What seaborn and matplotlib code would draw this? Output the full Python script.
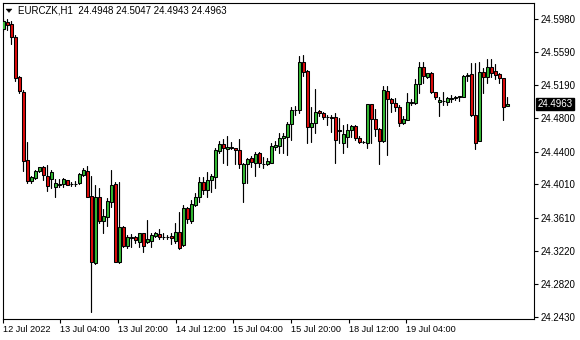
import matplotlib
matplotlib.use("Agg")
import matplotlib.pyplot as plt
import matplotlib.transforms as mtransforms
from matplotlib.patches import Polygon
import seaborn as sns
import numpy as np
import pandas as pd

symbol = "EURCZK,H1"

opens = [
    24.5861, 24.5944, 24.5920, 24.5765, 24.5289, 24.5110, 24.4300, 24.4050, 24.4086, 24.4169,
    24.4217, 24.4109, 24.4074, 24.3978, 24.4008, 24.4014, 24.4056, 24.4014, 24.4014, 24.4026,
    24.4121, 24.4169, 24.3871, 24.3073, 24.3859, 24.3577, 24.3624, 24.3803, 24.4010, 24.3088,
    24.3502, 24.3275, 24.3371, 24.3379, 24.3327, 24.3427, 24.3320, 24.3331, 24.3398, 24.3418,
    24.3379, 24.3386, 24.3395, 24.3339, 24.3439, 24.3287, 24.3725, 24.3577, 24.3764, 24.3856,
    24.4041, 24.3943, 24.4062, 24.4101, 24.4411, 24.4491, 24.4427, 24.4439, 24.4439, 24.4419,
    24.4022, 24.4249, 24.4320, 24.4261, 24.4387, 24.4252, 24.4249, 24.4268, 24.4458, 24.4470,
    24.4558, 24.4577, 24.4725, 24.4896, 24.4896, 24.5464, 24.5364, 24.4690, 24.4737, 24.4884,
    24.4856, 24.4809, 24.4809, 24.4809, 24.4654, 24.4506, 24.4577, 24.4657, 24.4705, 24.4558,
    24.4518, 24.4499, 24.4967, 24.4785, 24.4666, 24.4530, 24.5126, 24.5023, 24.4975, 24.4928,
    24.4744, 24.4780, 24.4975, 24.4975, 24.5205, 24.5404, 24.5292, 24.5333, 24.5106, 24.4987,
    24.5006, 24.4995, 24.5023, 24.5042, 24.5054, 24.5054, 24.5304, 24.5321, 24.4836, 24.4530,
    24.5345, 24.5292, 24.5404, 24.5357, 24.5321, 24.5273, 24.4948,
]
highs = [
    24.5980, 24.5980, 24.5956, 24.5789, 24.5301, 24.5134, 24.4514, 24.4109, 24.4181, 24.4217,
    24.4228, 24.4240, 24.4181, 24.4074, 24.4074, 24.4086, 24.4062, 24.4038, 24.4050, 24.4145,
    24.4205, 24.4228, 24.4109, 24.4002, 24.3966, 24.3716, 24.3847, 24.4181, 24.4041, 24.4041,
    24.3514, 24.3406, 24.3418, 24.3395, 24.3430, 24.3430, 24.3585, 24.3434, 24.3439, 24.3474,
    24.3434, 24.3406, 24.3427, 24.3546, 24.3677, 24.3764, 24.3744, 24.3823, 24.3903, 24.4094,
    24.4094, 24.4161, 24.4133, 24.4439, 24.4530, 24.4550, 24.4586, 24.4518, 24.4443, 24.4547,
    24.4264, 24.4320, 24.4348, 24.4399, 24.4399, 24.4339, 24.4320, 24.4506, 24.4530, 24.4625,
    24.4625, 24.4756, 24.4935, 24.4943, 24.5539, 24.5551, 24.5372, 24.4928, 24.5142, 24.4896,
    24.4875, 24.4836, 24.4836, 24.4863, 24.4797, 24.4717, 24.4729, 24.4717, 24.4717, 24.4586,
    24.4526, 24.4967, 24.4967, 24.4904, 24.4681, 24.5182, 24.5182, 24.5035, 24.5035, 24.4955,
    24.4824, 24.5102, 24.5023, 24.5261, 24.5471, 24.5471, 24.5340, 24.5352, 24.5114, 24.5054,
    24.5106, 24.5054, 24.5071, 24.5062, 24.5066, 24.5313, 24.5340, 24.5452, 24.5459, 24.5471,
    24.5392, 24.5500, 24.5500, 24.5444, 24.5333, 24.5277, 24.5047,
]
lows = [
    24.5837, 24.5849, 24.5682, 24.5241, 24.5098, 24.4169, 24.4026, 24.4026, 24.4074, 24.4157,
    24.4062, 24.3931, 24.3966, 24.3859, 24.3978, 24.3978, 24.4002, 24.3990, 24.3990, 24.4014,
    24.4109, 24.3859, 24.2489, 24.3061, 24.3549, 24.3434, 24.3514, 24.3744, 24.3085, 24.3076,
    24.3260, 24.3252, 24.3267, 24.3315, 24.3267, 24.3208, 24.3308, 24.3267, 24.3379, 24.3359,
    24.3359, 24.3355, 24.3296, 24.3308, 24.3240, 24.3279, 24.3546, 24.3553, 24.3752, 24.3803,
    24.3895, 24.3856, 24.3922, 24.3963, 24.4380, 24.4268, 24.4240, 24.4427, 24.4252, 24.4201,
    24.3803, 24.4022, 24.4220, 24.4109, 24.4220, 24.4201, 24.4240, 24.4264, 24.4419, 24.4380,
    24.4380, 24.4359, 24.4538, 24.4836, 24.4863, 24.5304, 24.4499, 24.4518, 24.4625, 24.4828,
    24.4785, 24.4717, 24.4637, 24.4268, 24.4506, 24.4380, 24.4451, 24.4577, 24.4538, 24.4506,
    24.4508, 24.4446, 24.4506, 24.4586, 24.4249, 24.4518, 24.4359, 24.4875, 24.4887, 24.4705,
    24.4729, 24.4776, 24.4955, 24.4971, 24.5102, 24.5221, 24.5273, 24.5095, 24.5023, 24.4828,
    24.4955, 24.4955, 24.4995, 24.5015, 24.5003, 24.5050, 24.5245, 24.4824, 24.4427, 24.4526,
    24.5102, 24.5214, 24.5292, 24.5261, 24.5221, 24.4776, 24.4943,
]
closes = [
    24.5956, 24.5908, 24.5765, 24.5277, 24.5122, 24.4288, 24.4050, 24.4097, 24.4169, 24.4217,
    24.4121, 24.3990, 24.4157, 24.4026, 24.4020, 24.4068, 24.4008, 24.4014, 24.4020, 24.4133,
    24.4181, 24.3863, 24.3085, 24.3859, 24.3573, 24.3633, 24.3811, 24.4002, 24.3088, 24.3505,
    24.3275, 24.3386, 24.3383, 24.3347, 24.3427, 24.3279, 24.3355, 24.3406, 24.3427, 24.3379,
    24.3379, 24.3386, 24.3367, 24.3439, 24.3255, 24.3725, 24.3594, 24.3776, 24.3856, 24.4041,
    24.3943, 24.4062, 24.4109, 24.4419, 24.4491, 24.4439, 24.4451, 24.4455, 24.4416, 24.4249,
    24.4252, 24.4312, 24.4280, 24.4368, 24.4261, 24.4252, 24.4288, 24.4467, 24.4479, 24.4558,
    24.4589, 24.4729, 24.4896, 24.4892, 24.5464, 24.5352, 24.4697, 24.4737, 24.4868, 24.4856,
    24.4809, 24.4809, 24.4804, 24.4538, 24.4645, 24.4606, 24.4657, 24.4705, 24.4558, 24.4518,
    24.4518, 24.4967, 24.4785, 24.4666, 24.4530, 24.5134, 24.5023, 24.4975, 24.4928, 24.4744,
    24.4788, 24.4987, 24.4995, 24.5205, 24.5404, 24.5301, 24.5333, 24.5114, 24.5054, 24.5015,
    24.5006, 24.5042, 24.5042, 24.5047, 24.5059, 24.5301, 24.5309, 24.4836, 24.4506, 24.5345,
    24.5292, 24.5404, 24.5340, 24.5313, 24.5273, 24.4935, 24.4963,
]

x_tick_labels = ["12 Jul 2022", "13 Jul 04:00", "13 Jul 20:00", "14 Jul 12:00",
                 "15 Jul 04:00", "15 Jul 20:00", "18 Jul 12:00", "19 Jul 04:00"]
x_tick_pos = [-0.15, 14.25, 28.68, 43.1, 57.5, 71.93, 86.35, 100.75]
y_ticks = [24.2430, 24.2820, 24.3220, 24.3610, 24.4010, 24.4400,
           24.4800, 24.5190, 24.5590, 24.5980]

BULL = "#34b834"
BEAR = "#dc0c0c"

df = pd.DataFrame({"open": opens, "high": highs, "low": lows, "close": closes})
df["bar"] = np.arange(len(df))
df["bottom"] = df[["open", "close"]].min(axis=1)
df["height"] = (df["close"] - df["open"]).abs()
df["color"] = np.where(df["close"] >= df["open"], BULL, BEAR)

wicks = pd.concat([
    df[["bar"]].assign(price=df["low"]),
    df[["bar"]].assign(price=df["high"]),
]).sort_values(["bar", "price"])

sns.set_theme(style="white")
plt.rcParams["font.family"] = ["Liberation Sans", "DejaVu Sans"]

W, H = 580, 340
fig = plt.figure(figsize=(W / 100, H / 100), dpi=100)
ax = fig.add_axes([2.5 / W, 21.5 / H, 531 / W, 315.5 / H])
ax.set_facecolor("white")

sns.lineplot(data=wicks, x="bar", y="price", units="bar", estimator=None,
             color="black", linewidth=0.85, legend=False, ax=ax, sort=False)
ax.bar(df["bar"], df["height"], bottom=df["bottom"], width=0.68,
       color=df["color"], edgecolor="black", linewidth=0.75, zorder=3)

ax.set_xlim(-0.2, 132.55)
ax.set_ylim(24.2412, 24.6170)
ax.set_xlabel("")
ax.set_ylabel("")

ax.set_xticks(x_tick_pos)
ax.set_xticklabels(x_tick_labels, ha="left")
ax.set_yticks(y_ticks)
ax.set_yticklabels([f"{v:.4f}" for v in y_ticks])
ax.yaxis.tick_right()
ax.tick_params(axis="x", bottom=True, direction="out", length=3, width=0.8,
               pad=1.5, labelsize=6.6, colors="black")
ax.tick_params(axis="y", right=True, left=False, direction="out", length=3,
               width=0.8, pad=2, labelsize=7, colors="black")
for s in ax.spines.values():
    s.set_visible(True)
    s.set_color("black")
    s.set_linewidth(0.8)
ax.grid(False)

# current price label
trans = mtransforms.blended_transform_factory(ax.transAxes, ax.transData)
ax.text(1.0 + 4 / 531, closes[-1], f"{closes[-1]:.4f}", transform=trans,
        ha="left", va="center", color="white", fontsize=7, zorder=10,
        bbox=dict(boxstyle="square,pad=0.12", fc="black", ec="black"),
        clip_on=False)

# header
tri = Polygon([[6 / W, 1 - 9 / H], [12 / W, 1 - 9 / H], [9 / W, 1 - 12.5 / H]],
              closed=True, transform=fig.transFigure, fc="black", ec="black", lw=0.3)
fig.add_artist(tri)
fig.text(18 / W, 1 - 10.5 / H,
         f"{symbol}  {opens[-1]:.4f} {highs[-1]:.4f} {lows[-1]:.4f} {closes[-1]:.4f}",
         ha="left", va="center", fontsize=7, color="black")

fig.savefig("out.png", dpi=100, facecolor="white")
